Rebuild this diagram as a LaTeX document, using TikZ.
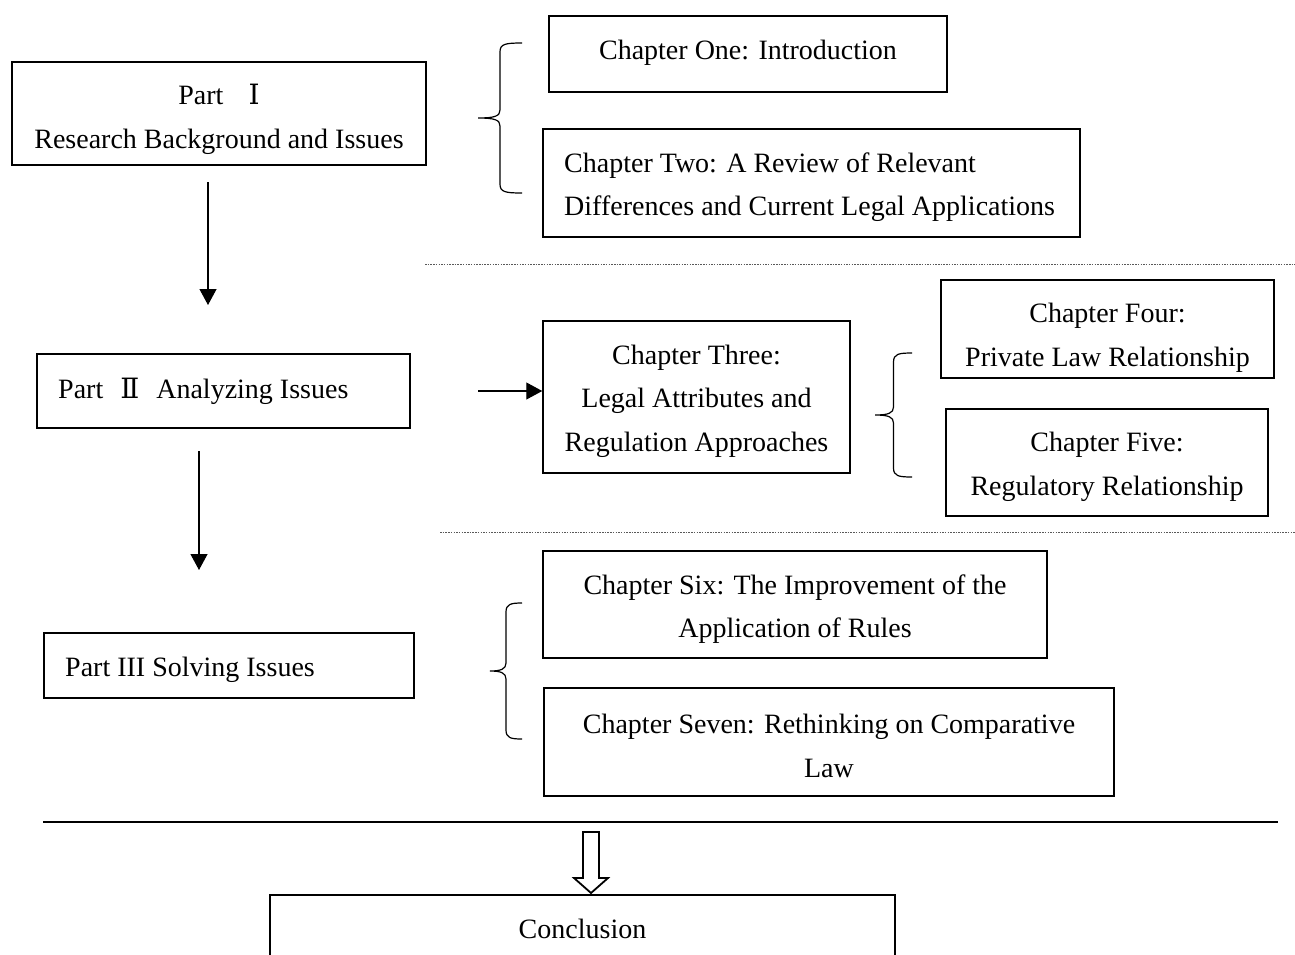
\documentclass[tikz,border=0pt]{standalone}
\usepackage{fontspec}
\setmainfont{Liberation Serif}
\newfontfamily\romfont{DejaVu Serif}
\usetikzlibrary{arrows.meta}

% left curly brace: tip x, tip y, half height, width
\newcommand{\chapbrace}[4]{%
  \draw[bracket] ({#1+#4},{#2-#3}) .. controls ({#1+#4/2+5},{#2-#3}) and ({#1+#4/2},{#2-#3+1}) .. ({#1+#4/2},{#2-#3+9})
    -- ({#1+#4/2},{#2-8}) .. controls ({#1+#4/2},{#2-2}) and ({#1+#4/2-5},{#2}) .. (#1,#2)
    .. controls ({#1+#4/2-5},{#2}) and ({#1+#4/2},{#2+2}) .. ({#1+#4/2},{#2+8})
    -- ({#1+#4/2},{#2+#3-9}) .. controls ({#1+#4/2},{#2+#3-1}) and ({#1+#4/2+5},{#2+#3}) .. ({#1+#4},{#2+#3});
}

\begin{document}
\begin{tikzpicture}[
    x=1pt, y=-1pt,
    box/.style={
        draw,
        line width=1.5pt,
        inner sep=0pt
    },
    txt/.style={
        inner sep=0pt,
        font=\fontsize{28}{43.5}\selectfont,
        align=center
    },
    flow/.style={
        line width=1.2pt,
        -{Triangle[width=17pt,length=16pt]}
    },
    bracket/.style={line width=1.2pt},
    sep/.style={gray!70!black, line width=0.9pt, dash pattern=on 1.5pt off 1.2pt}
]
    \useasboundingbox (0,0) rectangle (1295,954);
    \fill[white] (0,0) rectangle (1295,954);
    \clip (0,0) rectangle (1295,954);

    % parts
    \node[box, minimum width=414pt, minimum height=103pt] (part1) at (219,113.5) {};
    \node[txt] (part1-t) at (219,119.5)
        {Part\hspace{25pt}{\romfont Ⅰ}\hspace{11pt}\\Research Background and Issues};
    \node[box, minimum width=373pt, minimum height=74pt] (part2) at (223.5,391) {};
    \node[txt, anchor=west] (part2-t) at (58,391)
        {Part\hspace{17pt}{\romfont Ⅱ}\hspace{17pt}Analyzing Issues};
    \node[box, minimum width=370pt, minimum height=65pt] (part3) at (229,665.5) {};
    \node[txt, anchor=west] (part3-t) at (65,669.5) {Part III Solving Issues};

    % chapters
    \node[box, minimum width=398pt, minimum height=76pt] (ch1) at (748,54) {};
    \node[txt] (ch1-t) at (748,53) {Chapter One: Introduction};
    \node[box, minimum width=537pt, minimum height=108pt] (ch2) at (811.5,183) {};
    \node[txt, anchor=west, align=left] (ch2-t) at (564,187)
        {Chapter Two: A Review of Relevant\\Differences and Current Legal Applications};
    \node[box, minimum width=307pt, minimum height=152pt] (ch3) at (696.5,397) {};
    \node[txt] (ch3-t) at (696.5,401)
        {Chapter Three:\\Legal Attributes and\\Regulation Approaches};
    \node[box, minimum width=333pt, minimum height=98pt] (ch4) at (1107.5,329) {};
    \node[txt] (ch4-t) at (1107.5,338) {Chapter Four:\\Private Law Relationship};
    \node[box, minimum width=322pt, minimum height=107pt] (ch5) at (1107,462.5) {};
    \node[txt] (ch5-t) at (1107,467) {Chapter Five:\\Regulatory Relationship};
    \node[box, minimum width=504pt, minimum height=107pt] (ch6) at (795,604.5) {};
    \node[txt] (ch6-t) at (795,609) {Chapter Six: The Improvement of the\\Application of Rules};
    \node[box, minimum width=570pt, minimum height=108pt] (ch7) at (829,742) {};
    \node[txt] (ch7-t) at (829,746) {Chapter Seven: Rethinking on Comparative\\Law};
    \node[box, minimum width=625pt, minimum height=68pt] (concl) at (582.5,929) {};
    \node[txt] (concl-t) at (582.5,929) {Conclusion};

    % arrows
    \coordinate (a1s) at (208,182);
    \coordinate (a1e) at (208,305);
    \coordinate (a2s) at (199,451);
    \coordinate (a2e) at (199,570);
    \coordinate (a3s) at (478,391);
    \draw[flow] (a1s) -- (a1e);
    \draw[flow] (a2s) -- (a2e);
    \draw[flow] (a3s) -- (ch3.west |- a3s);

    % braces
    \chapbrace{478}{118}{75}{44}
    \chapbrace{875}{415}{62}{37}
    \chapbrace{490}{671}{68}{32}

    % separators
    \draw[sep] (425,264) -- (1295,264);
    \draw[sep] (440,532) -- (1295,532);
    \draw[line width=1.2pt] (43,822) -- (1278,822);

    % hollow arrow to conclusion
    \draw[line width=1.8pt, fill=white]
        (583,832) -- (599,832) -- (599,878) -- (608,878) -- (591,893) -- (574,878) -- (583,878) -- cycle;
\end{tikzpicture}
\end{document}
